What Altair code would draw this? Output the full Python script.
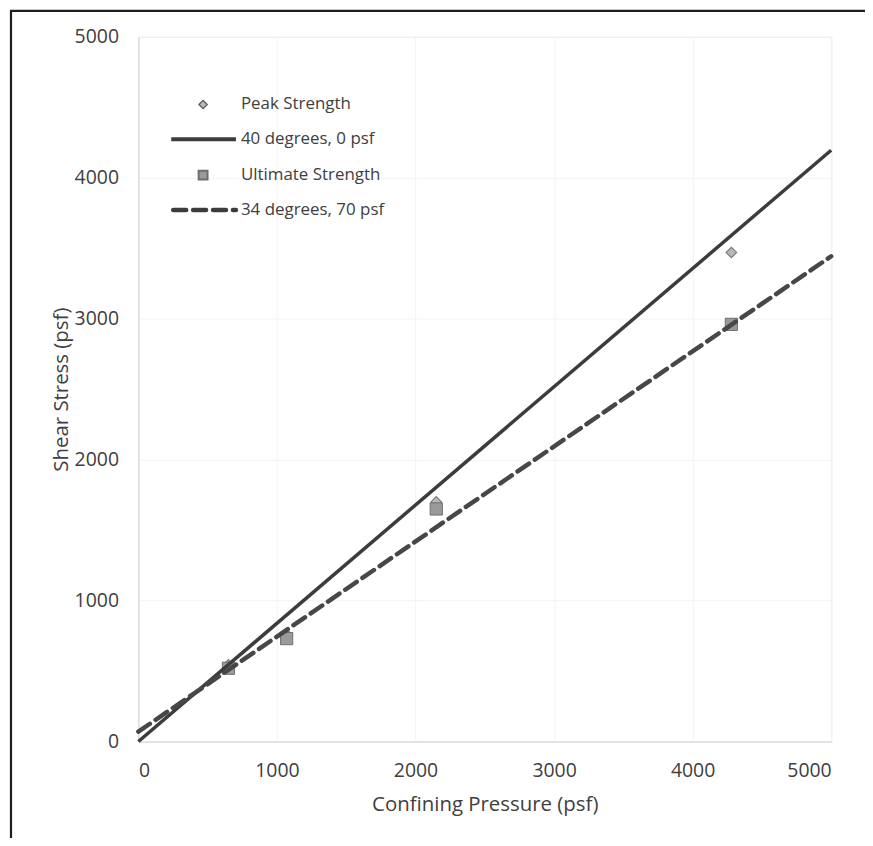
import altair as alt
import pandas as pd

# ---- data ----
pressure_pts = [650, 1070, 2150, 4280]
peak_strength = [545, 760, 1700, 3470]
ultimate_strength = [520, 730, 1650, 2960]

line_x = [0, 5000]
line_40deg = [0, 4195]     # 40 degrees, 0 psf
line_34deg = [70, 3443]    # 34 degrees, 70 psf

x_ticks = [0, 1000, 2000, 3000, 4000, 5000]
y_ticks = [0, 1000, 2000, 3000, 4000, 5000]

legend_labels = ["Peak Strength", "40 degrees, 0 psf", "Ultimate Strength", "34 degrees, 70 psf"]

FONT = "Open Sans"
TXT = "#404040"

pts = pd.DataFrame({"x": pressure_pts, "peak": peak_strength, "ult": ultimate_strength})
lines = pd.DataFrame({"x": line_x, "l40": line_40deg, "l34": line_34deg})
one = pd.DataFrame({"a": [0]})

xscale = alt.Scale(domain=[0, 5000], nice=False, zero=False)
yscale = alt.Scale(domain=[0, 5000], nice=False, zero=False)

xaxis = alt.Axis(values=x_ticks, format="d", title="Confining Pressure (psf)", ticks=False,
                 labelPadding=20, labelFontSize=19.5, titleFontSize=20.5,
                 titleFontWeight="normal", titleY=63, titleBaseline="middle",
                 grid=True, gridColor="#f3f3f3", domainColor="#d6d6d6",
                 labelColor=TXT, titleColor=TXT, labelFont=FONT, titleFont=FONT)
yaxis = alt.Axis(values=y_ticks, format="d", title="Shear Stress (psf)", ticks=False,
                 labelPadding=20, labelFontSize=19.5, titleFontSize=20.5,
                 titleFontWeight="normal", titleX=-77, titleY=354, titleAngle=-90,
                 titleBaseline="middle", titleAlign="center",
                 grid=True, gridColor="#f3f3f3", domainColor="#d6d6d6",
                 labelColor=TXT, titleColor=TXT, labelFont=FONT, titleFont=FONT)

peak = alt.Chart(pts).mark_point(shape="diamond", filled=True, size=110,
                                  fill="#b8b8b8", stroke="#7a7a7a", strokeWidth=1.2, opacity=1).encode(
    x=alt.X("x:Q", scale=xscale, axis=xaxis),
    y=alt.Y("peak:Q", scale=yscale, axis=yaxis),
)
solid = alt.Chart(lines).mark_line(color="#3c3c3c", strokeWidth=3.5).encode(
    x=alt.X("x:Q", scale=xscale), y=alt.Y("l40:Q", scale=yscale))
ult = alt.Chart(pts).mark_square(size=150, fill="#9a9a9a", stroke="#6e6e6e",
                                 strokeWidth=1, opacity=1).encode(
    x=alt.X("x:Q", scale=xscale), y=alt.Y("ult:Q", scale=yscale))
dashed = alt.Chart(lines).mark_line(color="#474747", strokeWidth=4.5,
                                    strokeDash=[14, 7], strokeCap="round").encode(
    x=alt.X("x:Q", scale=xscale), y=alt.Y("l34:Q", scale=yscale))

# ---- in-plot legend ----
leg_peak = alt.Chart(one).mark_point(shape="diamond", filled=True, size=70,
                                     fill="#b8b8b8", stroke="#555", strokeWidth=1.2, opacity=1).encode(
    x=alt.value(65), y=alt.value(68))
leg_solid = alt.Chart(one).mark_rule(color="#3c3c3c", strokeWidth=4).encode(
    x=alt.value(33), x2=alt.value(98), y=alt.value(103))
leg_ult = alt.Chart(one).mark_square(size=80, fill="#9a9a9a", stroke="#6e6e6e", opacity=1).encode(
    x=alt.value(65), y=alt.value(139))
leg_dash = alt.Chart(one).mark_rule(color="#3c3c3c", strokeWidth=4.5,
                                    strokeDash=[13, 7], strokeCap="round").encode(
    x=alt.value(35), x2=alt.value(98), y=alt.value(174))

leg_texts = []
for lbl, yy in zip(legend_labels, [68, 103, 139, 174]):
    leg_texts.append(
        alt.Chart(one).mark_text(align="left", baseline="middle", font=FONT,
                                 fontSize=17, color=TXT, text=lbl).encode(
            x=alt.value(103), y=alt.value(yy))
    )

frame = alt.Chart(one).mark_rect(fill="transparent", stroke="#1e1e1e", strokeWidth=2.2).encode(
    x=alt.value(-128), x2=alt.value(1000), y=alt.value(-26), y2=alt.value(1000))

chart = alt.layer(
    peak, ult, solid, dashed, leg_peak, leg_solid, leg_ult, leg_dash, *leg_texts, frame
).properties(
    width=696, height=708,
    padding={"left": 131, "top": 27, "right": 34, "bottom": 95},
    autosize=alt.AutoSizeParams(type="none"),
).configure_view(stroke=None).configure(background="white")

chart.save("out.html", embed_options={"renderer": "svg", "actions": False})
